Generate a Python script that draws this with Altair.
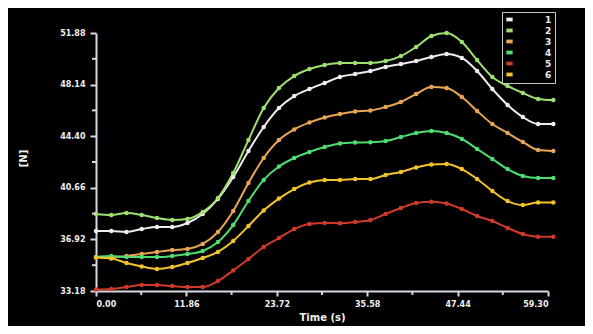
import altair as alt
import pandas as pd

times = [0, 2, 4, 6, 8, 10, 12, 14, 16, 18, 20, 22, 24, 26, 28, 30,
         32, 34, 36, 38, 40, 42, 44, 46, 48, 50, 52, 54, 56, 58, 60]

s1 = [37.53, 37.53, 37.46, 37.67, 37.82, 37.82, 38.11, 38.76, 39.85, 41.44, 43.33,
      45.07, 46.44, 47.31, 47.82, 48.26, 48.69, 48.91, 49.13, 49.42, 49.63, 49.85,
      50.14, 50.36, 50.07, 49.13, 47.82, 46.66, 45.79, 45.28, 45.28]
s2 = [38.76, 38.69, 38.83, 38.69, 38.47, 38.33, 38.40, 38.91, 39.92, 41.73, 44.12,
      46.44, 47.89, 48.76, 49.27, 49.56, 49.71, 49.71, 49.71, 49.85, 50.21, 50.87,
      51.66, 51.88, 51.23, 49.92, 48.69, 48.04, 47.53, 47.10, 47.02]
s3 = [35.64, 35.64, 35.72, 35.86, 36.01, 36.15, 36.22, 36.59, 37.46, 38.98, 41.01,
      42.82, 44.12, 44.89, 45.39, 45.76, 46.01, 46.19, 46.26, 46.52, 46.88, 47.46,
      47.97, 47.89, 47.24, 46.23, 45.28, 44.63, 43.98, 43.40, 43.33]
s4 = [35.64, 35.72, 35.64, 35.64, 35.64, 35.72, 35.86, 36.08, 36.73, 37.96, 39.70,
      41.23, 42.20, 42.82, 43.26, 43.62, 43.87, 43.94, 43.96, 44.05, 44.34, 44.63,
      44.78, 44.63, 44.20, 43.47, 42.75, 42.02, 41.52, 41.37, 41.37]
s5 = [33.29, 33.33, 33.47, 33.61, 33.61, 33.54, 33.47, 33.47, 33.90, 34.67, 35.50,
      36.37, 37.02, 37.67, 38.04, 38.11, 38.09, 38.18, 38.33, 38.76, 39.20, 39.56,
      39.65, 39.52, 39.12, 38.62, 38.25, 37.75, 37.31, 37.12, 37.12]
s6 = [35.61, 35.54, 35.21, 34.96, 34.78, 34.92, 35.21, 35.57, 36.01, 36.80, 37.89,
      39.02, 39.88, 40.57, 41.04, 41.23, 41.23, 41.30, 41.30, 41.59, 41.81, 42.13,
      42.35, 42.39, 42.02, 41.30, 40.43, 39.70, 39.41, 39.59, 39.59]

series_names = ["1", "2", "3", "4", "5", "6"]
series_colors = ["#f2eaf2", "#9ee070", "#e8a556", "#4fdc72", "#cf3a2a", "#f2c42a"]
x_ticks = [0.00, 11.86, 23.72, 35.58, 47.44, 59.30]
y_ticks = [33.18, 36.92, 40.66, 44.40, 48.14, 51.88]
x_minor = [5.93, 17.79, 29.65, 41.51, 53.37]
y_minor = [35.05, 38.79, 42.53, 46.27, 50.01]

rows = []
for name, vals in zip(series_names, [s1, s2, s3, s4, s5, s6]):
    for t, v in zip(times, vals):
        rows.append({"Time": t, "Value": v, "Series": name})
df = pd.DataFrame(rows)

df_xminor = pd.DataFrame({"Time": x_minor, "Value": [y_ticks[0]] * len(x_minor)})
df_yminor = pd.DataFrame({"Time": [x_ticks[0]] * len(y_minor), "Value": y_minor})

color = alt.Color(
    "Series:N",
    scale=alt.Scale(domain=series_names, range=series_colors),
    legend=alt.Legend(
        orient="none", legendX=406, legendY=-21, title=None,
        strokeColor="#c8c8cc", padding=3, fillColor="#000000",
        symbolType="M-1,-0.6H1V0.6H-1Z", symbolSize=40, symbolStrokeWidth=0,
        labelColor="#eeeeee", labelFont="DejaVu Sans", labelFontWeight="bold",
        labelFontSize=9, labelOffset=31, rowPadding=1,
        labelExpr="datum.label + '        '",
    ),
)

x = alt.X(
    "Time:Q",
    scale=alt.Scale(domain=[0, 59.3], nice=False, zero=False),
    axis=alt.Axis(values=x_ticks, format=".2f", title="Time (s)",
                  tickSize=5, labelPadding=4, titlePadding=4, grid=False),
)
y = alt.Y(
    "Value:Q",
    scale=alt.Scale(domain=[33.18, 51.88], nice=False, zero=False),
    axis=alt.Axis(values=y_ticks, format=".2f", title="[N]",
                  tickSize=6, labelPadding=5, grid=False,
                  titleX=-68, titleY=125),
)

base = alt.Chart(df).encode(x=x, y=y, color=color, detail="Series:N")
lines = base.mark_line(strokeWidth=2, interpolate="monotone")
points = base.mark_circle(size=20, opacity=1)

xminor = alt.Chart(df_xminor).mark_tick(
    orient="vertical", size=4, thickness=2, color="#d8d8e4", yOffset=2, opacity=1
).encode(x=x, y=y)
yminor = alt.Chart(df_yminor).mark_tick(
    orient="horizontal", size=4, thickness=2, color="#d8d8e4", xOffset=-2, opacity=1
).encode(x=x, y=y)

chart = (
    alt.layer(lines, points, xminor, yminor)
    .properties(
        width=452, height=258,
        background="#000000",
        autosize=alt.AutoSizeParams(type="none"),
        padding={"left": 88, "top": 25, "right": 37, "bottom": 35},
    )
    .configure_view(stroke=None)
    .configure_axis(
        domainColor="#d8d8e4", domainWidth=2, tickColor="#d8d8e4", tickWidth=2,
        labelColor="#f0f0f0", labelFont="DejaVu Sans", labelFontWeight="bold",
        labelFontSize=8, titleColor="#f0f0f0", titleFont="DejaVu Sans",
        titleFontWeight="bold", titleFontSize=10,
    )
)

chart.save("out.html", embed_options={"renderer": "svg", "actions": False})
